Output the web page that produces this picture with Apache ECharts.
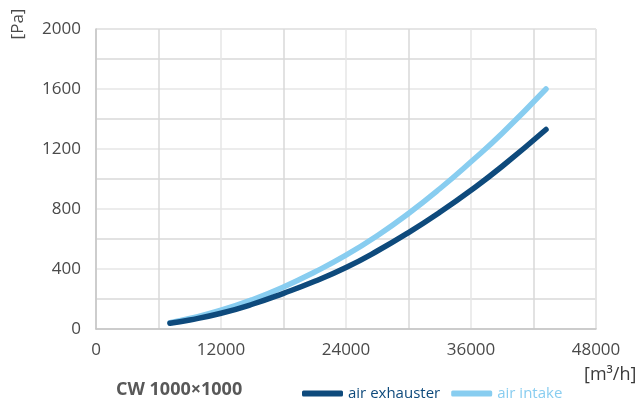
<!DOCTYPE html>
<html>
<head>
<meta charset="utf-8">
<script src="https://cdn.jsdelivr.net/npm/echarts@6/dist/echarts.min.js"></script>
<style>html,body{margin:0;padding:0;background:#fff}#c{width:638px;height:403px}</style>
</head>
<body>
<div id="c"></div>
<script>
const airflow = [7100, 9000, 12000, 15000, 18000, 21000, 24000, 27000, 30000, 33000, 36000, 39000, 43200];
const exhauster = [38, 60, 105, 165, 238, 318, 410, 520, 643, 778, 925, 1085, 1330];
const intake = [42, 70, 125, 195, 280, 380, 492, 622, 770, 935, 1115, 1305, 1600];
const xTicks = [0, 12000, 24000, 36000, 48000];
const yTicks = [0, 400, 800, 1200, 1600, 2000];
const seriesNames = ['air exhauster', 'air intake'];
const title = 'CW 1000×1000';

const darkC = '#0e4a7c', lightC = '#88cdf0';
const font = '"Open Sans", "Noto Sans", sans-serif';
const chart = echarts.init(document.getElementById('c'));
const pair = (xs, ys) => xs.map((x, i) => [x, ys[i]]);
chart.setOption({
  animation: false,
  grid: {left: 96, right: 42, top: 29, bottom: 74, show: true, borderColor: '#cbcbcb', borderWidth: 1},
  xAxis: {
    type: 'value', min: 0, max: 48000, interval: 6000,
    axisLine: {show: true, lineStyle: {color: '#c4c4c4', width: 1.5}},
    axisTick: {show: false},
    axisLabel: {color: '#4a4a4a', fontSize: 17, fontFamily: font, margin: 13,
      formatter: v => xTicks.includes(v) ? String(v) : ''},
    splitLine: {show: true, lineStyle: {color: ['#e6e6e6', '#d9d9d9'], width: 1.5}}
  },
  yAxis: {
    type: 'value', min: 0, max: 2000, interval: 200,
    axisLine: {show: true, lineStyle: {color: '#c4c4c4', width: 1.5}},
    axisTick: {show: false},
    axisLabel: {color: '#4a4a4a', fontSize: 17, fontFamily: font, margin: 15,
      formatter: v => yTicks.includes(v) ? String(v) : ''},
    splitLine: {show: true, lineStyle: {color: ['#e6e6e6', '#d9d9d9'], width: 1.5}}
  },
  legend: {
    left: 297, top: 381, itemWidth: 41, itemHeight: 6, itemGap: 11, icon: 'roundRect',
    data: [
      {name: seriesNames[0], textStyle: {color: darkC}},
      {name: seriesNames[1], textStyle: {color: lightC}}
    ],
    textStyle: {fontSize: 15, fontFamily: font, padding: [0, 0, 0, 0]}
  },
  graphic: [
    {type: 'text', left: 116, top: 381, style: {text: title, font: 'bold 18px ' + font, fill: '#585858'}},
    {type: 'text', x: 18, y: 24, rotation: Math.PI / 2, style: {text: '[Pa]', font: '17px ' + font, fill: '#4a4a4a', align: 'center', verticalAlign: 'middle'}},
    {type: 'text', left: 584, top: 366, style: {text: '[m³/h]', font: '18px ' + font, fill: '#3a3a3a'}}
  ],
  series: [
    {name: seriesNames[0], type: 'line', smooth: 0.5, symbol: 'none', data: pair(airflow, exhauster),
      lineStyle: {color: darkC, width: 5.5, cap: 'round'}, itemStyle: {color: darkC}, z: 3},
    {name: seriesNames[1], type: 'line', smooth: 0.5, symbol: 'none', data: pair(airflow, intake),
      lineStyle: {color: lightC, width: 5.5, cap: 'round'}, itemStyle: {color: lightC}, z: 2}
  ]
});
</script>
</body>
</html>
